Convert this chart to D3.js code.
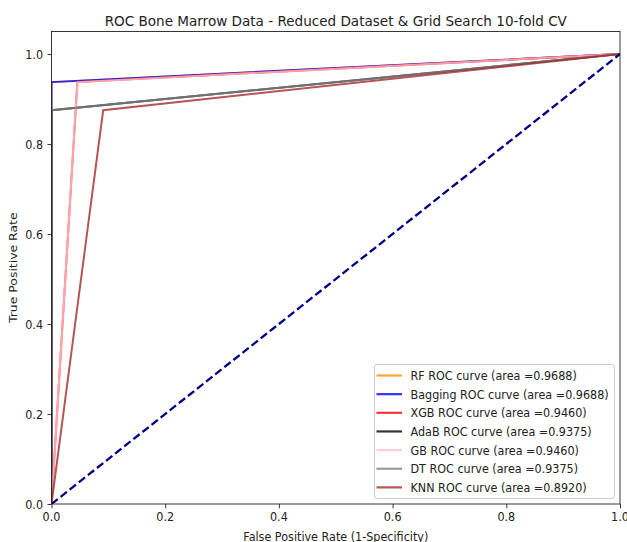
<!DOCTYPE html>
<html><head><meta charset="utf-8">
<script src="https://cdn.jsdelivr.net/npm/d3@7"></script>
<style>body{margin:0;background:#fff}svg{display:block}text{font-family:"DejaVu Sans",sans-serif}</style>
</head><body>
<svg id="c" width="627" height="542"></svg>
<script>
const models = ["RF","Bagging","XGB","AdaB","GB","DT","KNN"];
const aucs = ["0.9688","0.9688","0.9460","0.9375","0.9460","0.9375","0.8920"];
const fprs = [[0,0,1],[0,0,1],[0,0.0455,1],[0,0,1],[0,0.0455,1],[0,0,1],[0,0.0909,1]];
const tprs = [[0,0.9375,1],[0,0.9375,1],[0,0.9375,1],[0,0.875,1],[0,0.9375,1],[0,0.875,1],[0,0.875,1]];
const diagX = [0,1];
const diagY = [0,1];
const xTicks = [0,0.2,0.4,0.6,0.8,1.0];
const yTicks = [0,0.2,0.4,0.6,0.8,1.0];
const colors = ["darkorange","blue","red","black","pink","gray","brown"];

const SX = 0.91; // horizontal text compression
const svg = d3.select("#c");
const L=51.5,R=620,T=31.5,B=504;
const x = d3.scaleLinear().domain([0,1]).range([L,R]);
const y = d3.scaleLinear().domain([0,1.05]).range([B,T]);

function txt(parent, px, py, s, size, anchor){
  return parent.append("text").attr("transform",`translate(${px},${py}) scale(${SX},1)`)
    .attr("text-anchor",anchor||"start").attr("font-size",size).attr("fill","#222").text(s);
}

svg.append("clipPath").attr("id","cp").append("rect").attr("x",L).attr("y",T).attr("width",R-L).attr("height",B-T);
const plot = svg.append("g").attr("clip-path","url(#cp)");
const line = d3.line().x(d=>x(d[0])).y(d=>y(d[1]));
models.forEach((m,i)=>{
  const pts = fprs[i].map((f,j)=>[f,tprs[i][j]]);
  plot.append("path").attr("d",line(pts)).attr("fill","none")
    .attr("stroke",colors[i]).attr("stroke-width",2).attr("stroke-opacity",0.8);
});
plot.append("path").attr("d",line(diagX.map((v,j)=>[v,diagY[j]]))).attr("fill","none")
  .attr("stroke","navy").attr("stroke-width",2.3).attr("stroke-dasharray","8,3.6");

const fmt = d3.format(".1f");
const xa = svg.append("g").attr("transform",`translate(0,${B})`)
  .call(d3.axisBottom(x).tickValues(xTicks).tickFormat(fmt).tickSize(4.3).tickPadding(4));
const ya = svg.append("g").attr("transform",`translate(${L},0)`)
  .call(d3.axisLeft(y).tickValues(yTicks).tickFormat(fmt).tickSize(4).tickPadding(4));
[xa,ya].forEach(a=>{
  a.select(".domain").remove();
  a.selectAll("line").attr("stroke","#222").attr("stroke-width",0.9);
  a.selectAll("text").remove();
});
xTicks.forEach(v=>txt(svg, x(v), 520.5, fmt(v), 12.3, "middle"));
yTicks.forEach(v=>txt(svg, L-8.5, y(v)+4.5, fmt(v), 12.3, "end"));

svg.append("rect").attr("x",L).attr("y",T).attr("width",R-L).attr("height",B-T)
  .attr("fill","none").attr("stroke","#222").attr("stroke-width",0.9);

txt(svg,(L+R)/2,25.5,"ROC Bone Marrow Data - Reduced Dataset & Grid Search 10-fold CV",14.9,"middle");
txt(svg,(L+R)/2,540.5,"False Positive Rate (1-Specificity)",12.3,"middle");
svg.append("text").attr("transform",`translate(16.5,${(T+B)/2}) rotate(-90) scale(1.1,1)`).attr("text-anchor","middle")
  .attr("font-size",11.3).attr("fill","#222").text("True Positive Rate");

// legend
const lg = svg.append("g");
lg.append("rect").attr("x",374.5).attr("y",364.5).attr("width",240).attr("height",134).attr("rx",2.5)
  .attr("fill","white").attr("fill-opacity",0.8).attr("stroke","#ccc").attr("stroke-width",1);
models.forEach((m,i)=>{
  const yy = 375.5 + i*18.65;
  lg.append("line").attr("x1",376.5).attr("x2",402).attr("y1",yy).attr("y2",yy)
    .attr("stroke",colors[i]).attr("stroke-width",2.2).attr("stroke-opacity",0.8);
  txt(lg, 410.5, yy+4.5, `${m} ROC curve (area =${aucs[i]})`, 12.3, "start");
});
</script>
</body></html>
